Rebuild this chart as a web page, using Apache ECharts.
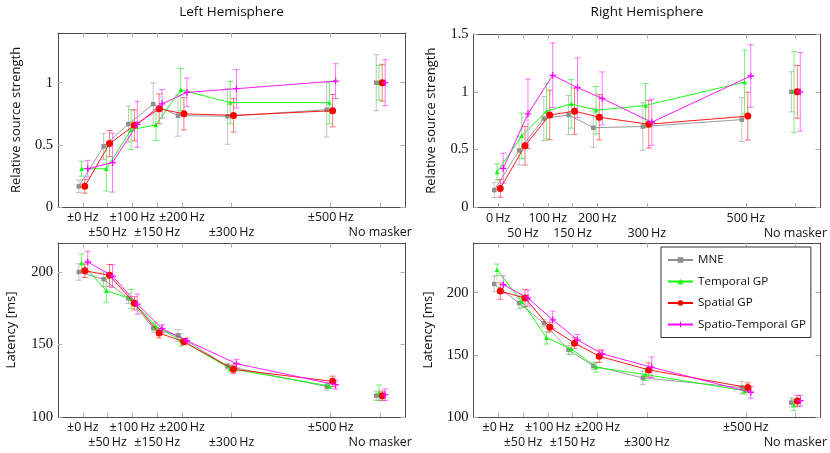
<!DOCTYPE html>
<html>
<head>
<meta charset="utf-8">
<script src="https://cdn.jsdelivr.net/npm/echarts@6/dist/echarts.min.js"></script>
<style>html,body{margin:0;padding:0;background:#fff}#c{width:830px;height:453px}</style>
</head>
<body>
<div id="c"></div>
<script>
// ---------------- data ----------------
const freqs = [0, 50, 100, 150, 200, 300, 500];      // masker offsets (Hz)
const noMaskerPos = 600;                              // axis position used for "No masker"
const tickPositions = [0, 50, 100, 150, 200, 300, 500, 600];
const tickLabelsPM = ['±0\u2009Hz', '±50\u2009Hz', '±100\u2009Hz', '±150\u2009Hz', '±200\u2009Hz', '±300\u2009Hz', '±500\u2009Hz', 'No masker'];
const tickLabelsPlain = ['0\u2009Hz', '50\u2009Hz', '100\u2009Hz', '150\u2009Hz', '200\u2009Hz', '300\u2009Hz', '500\u2009Hz', 'No masker'];
const seriesNames = ['MNE', 'Temporal GP', 'Spatial GP', 'Spatio-Temporal GP'];
const panelTitles = ['Left Hemisphere', 'Right Hemisphere'];
const yNames = ['Relative source strength', 'Latency [ms]'];

// values: 0..500 Hz then No masker (last entry); Err = half-length of error bar
const leftStrMNE      = [0.166, 0.488, 0.667, 0.828, 0.735, 0.730, 0.783, 1.000];
const leftStrMNEErr   = [0.050, 0.105, 0.145, 0.170, 0.165, 0.225, 0.220, 0.225];
const leftStrTGP      = [0.308, 0.308, 0.622, 0.660, 0.944, 0.840, 0.840, 1.000];
const leftStrTGPErr   = [0.060, 0.180, 0.160, 0.125, 0.170, 0.170, 0.170, 0.140];
const leftStrSGP      = [0.166, 0.510, 0.657, 0.790, 0.750, 0.737, 0.775, 1.000];
const leftStrSGPErr   = [0.055, 0.105, 0.125, 0.120, 0.130, 0.135, 0.130, 0.148];
const leftStrSTGP     = [0.308, 0.357, 0.665, 0.830, 0.922, 0.952, 1.013, 1.000];
const leftStrSTGPErr  = [0.067, 0.237, 0.185, 0.115, 0.115, 0.155, 0.140, 0.185];

const rightStrMNE     = [0.151, 0.493, 0.769, 0.800, 0.690, 0.700, 0.760, 1.000];
const rightStrMNEErr  = [0.064, 0.125, 0.190, 0.170, 0.170, 0.205, 0.190, 0.174];
const rightStrTGP     = [0.307, 0.620, 0.833, 0.896, 0.841, 0.882, 1.085, 1.000];
const rightStrTGPErr  = [0.070, 0.196, 0.240, 0.210, 0.205, 0.190, 0.275, 0.350];
const rightStrSGP     = [0.165, 0.534, 0.800, 0.833, 0.780, 0.720, 0.790, 1.000];
const rightStrSGPErr  = [0.076, 0.167, 0.215, 0.200, 0.196, 0.206, 0.207, 0.228];
const rightStrSTGP    = [0.339, 0.810, 1.143, 1.036, 0.943, 0.737, 1.137, 1.000];
const rightStrSTGPErr = [0.130, 0.300, 0.280, 0.257, 0.229, 0.200, 0.271, 0.340];

const leftLatMNE      = [200.0, 195.0, 181.8, 161.4, 156.3, 135.0, 121.0, 114.7];
const leftLatMNEErr   = [5.7, 5.0, 3.5, 3.0, 4.0, 2.0, 2.5, 3.2];
const leftLatTGP      = [206.2, 187.1, 181.4, 162.5, 153.1, 133.3, 121.4, 116.6];
const leftLatTGPErr   = [6.3, 8.0, 6.6, 2.9, 4.2, 2.3, 1.8, 5.5];
const leftLatSGP      = [200.9, 197.7, 178.4, 157.9, 151.9, 132.9, 124.6, 114.7];
const leftLatSGPErr   = [4.7, 7.5, 4.6, 3.4, 2.1, 3.0, 3.6, 3.2];
const leftLatSTGP     = [206.9, 197.2, 177.9, 160.9, 152.6, 136.8, 122.3, 115.4];
const leftLatSTGPErr  = [7.4, 7.8, 6.9, 2.8, 1.7, 2.9, 3.0, 4.0];

const rightLatMNE     = [207.0, 191.7, 175.5, 154.0, 141.1, 131.5, 123.7, 111.6];
const rightLatMNEErr  = [6.2, 4.7, 3.0, 3.5, 2.7, 5.5, 5.0, 3.6];
const rightLatTGP     = [218.5, 193.0, 163.7, 154.8, 140.0, 134.1, 121.2, 109.7];
const rightLatTGPErr  = [4.6, 5.0, 5.0, 4.7, 4.0, 4.7, 2.7, 4.5];
const rightLatSGP     = [201.3, 195.7, 172.3, 159.4, 148.9, 137.9, 123.7, 112.9];
const rightLatSGPErr  = [6.6, 7.0, 4.0, 4.4, 5.0, 5.7, 3.8, 4.4];
const rightLatSTGP    = [206.5, 195.7, 178.2, 162.1, 150.8, 140.0, 119.9, 113.2];
const rightLatSTGPErr = [7.0, 6.5, 7.0, 4.3, 3.1, 8.3, 4.7, 4.3];

// ---------------- styling ----------------
const seriesColors = ['#8f8f8f', '#00ff00', '#ff0000', '#ff00ff'];
const errColors = ['rgba(143,143,143,0.6)', 'rgba(0,230,0,0.6)', 'rgba(255,0,0,0.6)', 'rgba(255,0,255,0.6)'];
const plusPath = 'path://M4,0H6V4H10V6H6V10H4V6H0V4H4Z';
const seriesSymbols = ['rect', 'triangle', 'circle', plusPath];
const seriesSymbolSizes = [4.5, 4.5, 7, 6.5];
const seriesOffsets = [-8, -2.5, 4, 10]; // horizontal dodge (Hz) so error bars do not overlap

const panels = [
  { grid: {left: 58, top: 33, width: 347, height: 174}, yMin: 0, yMax: 1.4, yTicks: [0, 0.5, 1], yName: yNames[0], nameGap: 35, xLabels: tickLabelsPM,
    data: [[leftStrMNE, leftStrMNEErr], [leftStrTGP, leftStrTGPErr], [leftStrSGP, leftStrSGPErr], [leftStrSTGP, leftStrSTGPErr]] },
  { grid: {left: 473.5, top: 34, width: 347, height: 173.5}, yMin: 0, yMax: 1.5, yTicks: [0, 0.5, 1, 1.5], yName: yNames[0], nameGap: 36, xLabels: tickLabelsPlain,
    data: [[rightStrMNE, rightStrMNEErr], [rightStrTGP, rightStrTGPErr], [rightStrSGP, rightStrSGPErr], [rightStrSTGP, rightStrSTGPErr]] },
  { grid: {left: 58, top: 243, width: 347, height: 174}, yMin: 100, yMax: 220, yTicks: [100, 150, 200], yName: yNames[1], nameGap: 40, xLabels: tickLabelsPM,
    data: [[leftLatMNE, leftLatMNEErr], [leftLatTGP, leftLatTGPErr], [leftLatSGP, leftLatSGPErr], [leftLatSTGP, leftLatSTGPErr]] },
  { grid: {left: 473.5, top: 243, width: 347, height: 174}, yMin: 100, yMax: 240, yTicks: [100, 150, 200], yName: yNames[1], nameGap: 39, xLabels: tickLabelsPM,
    data: [[rightLatMNE, rightLatMNEErr], [rightLatTGP, rightLatTGPErr], [rightLatSGP, rightLatSGPErr], [rightLatSTGP, rightLatSTGPErr]] }
];

const boxColor = '#4d4d4d';
const tickColor = '#b0b0b0';
const sansFont = '"Open Sans", "DejaVu Sans", sans-serif';
const serifFont = '"Liberation Serif", "DejaVu Serif", serif';

const grids = [], xAxes = [], yAxes = [], lineSeries = [], errSeries = [];

function errRender(params, api) {
  const x = api.value(0), lo = api.value(1), hi = api.value(2);
  const a = api.coord([x, hi]);
  const b = api.coord([x, lo]);
  const style = {stroke: api.visual('color'), lineWidth: 0.9, fill: null};
  return {
    type: 'group',
    children: [
      {type: 'line', shape: {x1: a[0], y1: a[1], x2: b[0], y2: b[1]}, style: style},
      {type: 'line', shape: {x1: a[0] - 3, y1: a[1], x2: a[0] + 3, y2: a[1]}, style: style},
      {type: 'line', shape: {x1: b[0] - 3, y1: b[1], x2: b[0] + 3, y2: b[1]}, style: style}
    ]
  };
}

const rowA = tickPositions.filter((v, i) => i % 2 === 0);   // first label row
const rowB = tickPositions.filter((v, i) => i % 2 === 1);   // second label row

panels.forEach((p, pi) => {
  grids.push(Object.assign({containLabel: false}, p.grid));
  const labels = p.xLabels;
  const fmt = function (v) {
    const i = tickPositions.indexOf(v);
    return i < 0 ? '' : labels[i];
  };
  const baseX = {
    type: 'value', gridIndex: pi, min: -50, max: 650,
    axisLine: {show: true, onZero: false, lineStyle: {color: boxColor, width: 1}},
    axisTick: {show: true, inside: true, length: 4.5, customValues: tickPositions, lineStyle: {color: tickColor, width: 1}},
    splitLine: {show: false}
  };
  const labelStyle = {fontFamily: sansFont, fontSize: 12.5, lineHeight: 15, color: '#111',
    showMinLabel: true, showMaxLabel: true, hideOverlap: false, formatter: fmt};
  // axis index 3*pi: bottom (row A labels), 3*pi+1: top (ticks only), 3*pi+2: bottom row B labels only
  xAxes.push(Object.assign({}, baseX, {
    position: 'bottom',
    axisLabel: Object.assign({show: true, customValues: rowA, margin: 3}, labelStyle)
  }));
  xAxes.push(Object.assign({}, baseX, {position: 'top', axisLabel: {show: false}}));
  xAxes.push(Object.assign({}, baseX, {
    position: 'bottom', offset: 15,
    axisLine: {show: false}, axisTick: {show: false},
    axisLabel: Object.assign({show: true, customValues: rowB, margin: 3}, labelStyle)
  }));
  const baseY = {
    type: 'value', gridIndex: pi, min: p.yMin, max: p.yMax,
    axisLine: {show: true, onZero: false, lineStyle: {color: boxColor, width: 1}},
    axisTick: {show: true, inside: true, length: 4.5, customValues: p.yTicks, lineStyle: {color: tickColor, width: 1}},
    splitLine: {show: false}
  };
  yAxes.push(Object.assign({}, baseY, {
    position: 'left',
    name: p.yName, nameLocation: 'middle', nameGap: p.nameGap,
    nameTextStyle: {fontFamily: sansFont, fontSize: 13, color: '#111'},
    axisLabel: {show: true, customValues: p.yTicks, margin: 5, fontFamily: serifFont, fontSize: 14.5, color: '#111', showMinLabel: true, showMaxLabel: true}
  }));
  yAxes.push(Object.assign({}, baseY, {position: 'right', axisLabel: {show: false}}));

  p.data.forEach((pair, si) => {
    const vals = pair[0], errs = pair[1];
    const off = seriesOffsets[si];
    const common = {
      name: seriesNames[si], xAxisIndex: pi * 3, yAxisIndex: pi * 2,
      symbol: seriesSymbols[si], symbolSize: seriesSymbolSizes[si], showSymbol: true,
      itemStyle: {color: seriesColors[si]},
      lineStyle: {color: seriesColors[si], width: 0.9},
      z: 3 + si, silent: true
    };
    lineSeries.push(Object.assign({type: 'line'}, common, {
      data: freqs.map((f, i) => [f + off, vals[i]])
    }));
    lineSeries.push(Object.assign({type: 'line'}, common, {
      data: [[noMaskerPos + off, vals[freqs.length]]]
    }));
    const errData = vals.map((v, i) => {
      const xpos = (i < freqs.length ? freqs[i] : noMaskerPos) + off;
      return [xpos, v - errs[i], v + errs[i]];
    });
    errSeries.push({
      type: 'custom', name: seriesNames[si], xAxisIndex: pi * 3, yAxisIndex: pi * 2,
      renderItem: errRender, itemStyle: {color: errColors[si]},
      encode: {x: 0, y: [1, 2]}, data: errData, z: 2, silent: true
    });
  });
});

const chart = echarts.init(document.getElementById('c'), null, {renderer: 'canvas'});
chart.setOption({
  animation: false,
  backgroundColor: '#ffffff',
  grid: grids,
  xAxis: xAxes,
  yAxis: yAxes,
  legend: {
    data: seriesNames, orient: 'vertical', left: 661, top: 247,
    itemWidth: 25, itemHeight: 7, itemGap: 9.5, padding: [7, 5, 7, 6],
    borderColor: '#333', borderWidth: 1, borderRadius: 0, backgroundColor: '#fff',
    textStyle: {fontFamily: sansFont, fontSize: 11.6, color: '#111'},
    selectedMode: false
  },
  graphic: [
    {type: 'text', x: 231.5, y: 12, style: {text: panelTitles[0], align: 'center', verticalAlign: 'middle', font: '13.5px ' + sansFont, fill: '#111'}},
    {type: 'text', x: 647, y: 12, style: {text: panelTitles[1], align: 'center', verticalAlign: 'middle', font: '13.5px ' + sansFont, fill: '#111'}}
  ],
  series: lineSeries.concat(errSeries)
});
</script>
</body>
</html>
